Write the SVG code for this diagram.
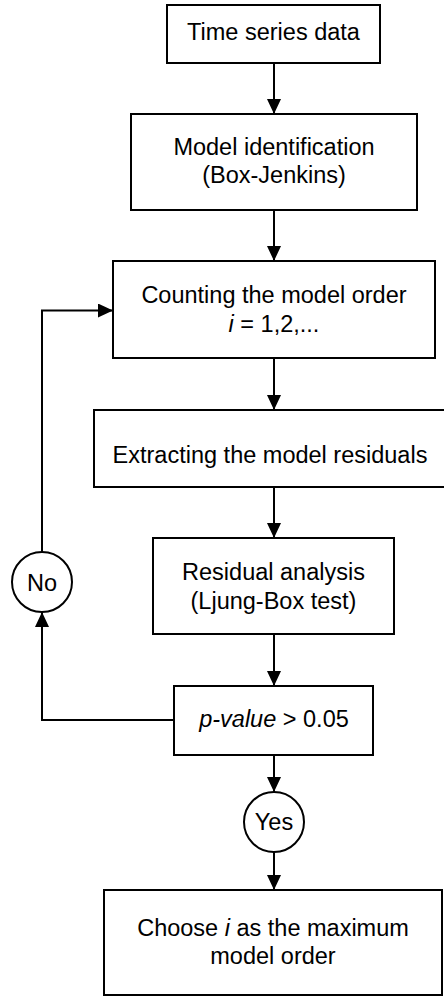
<svg xmlns="http://www.w3.org/2000/svg" width="444" height="996" viewBox="0 0 444 996">
<style>
.box{fill:#fff;stroke:#000;stroke-width:2}
.t{font-family:"Liberation Sans",Arial,sans-serif;font-size:23.5px;fill:#000;text-anchor:middle}
.it{font-style:italic}
.ln{fill:none;stroke:#000;stroke-width:2}
</style>
<defs>
<marker id="ah" viewBox="0 0 15 14" refX="15" refY="7" markerWidth="15" markerHeight="14" markerUnits="userSpaceOnUse" orient="auto">
<path d="M0,0 L15,7 L0,14 Z" fill="#000"/>
</marker>
</defs>
<g id="connectors">
<line class="ln" x1="274" y1="63" x2="274" y2="114" marker-end="url(#ah)"/>
<line class="ln" x1="274" y1="210" x2="274" y2="261" marker-end="url(#ah)"/>
<line class="ln" x1="274" y1="358" x2="274" y2="410" marker-end="url(#ah)"/>
<line class="ln" x1="274" y1="487" x2="274" y2="538" marker-end="url(#ah)"/>
<line class="ln" x1="274" y1="634" x2="274" y2="686" marker-end="url(#ah)"/>
<line class="ln" x1="274" y1="755" x2="274" y2="792" marker-end="url(#ah)"/>
<line class="ln" x1="274" y1="852" x2="274" y2="890" marker-end="url(#ah)"/>
<polyline class="ln" points="174,720 42,720 42,612" marker-end="url(#ah)"/>
<polyline class="ln" points="42,552 42,310.5 113,310.5" marker-end="url(#ah)"/>
</g>
<g id="n1">
<rect class="box" x="167" y="5" width="213" height="58"/>
<text class="t" x="273.5" y="39.5">Time series data</text>
</g>
<g id="n2">
<rect class="box" x="131" y="114" width="286" height="96"/>
<text class="t" x="274" y="155">Model identification</text>
<text class="t" x="274" y="183">(Box-Jenkins)</text>
</g>
<g id="n3">
<rect class="box" x="113" y="261" width="322" height="97"/>
<text class="t" x="274" y="302.5">Counting the model order</text>
<text class="t" x="274" y="331.5"><tspan class="it">i</tspan> = 1,2,...</text>
</g>
<g id="n4">
<rect class="box" x="94" y="410" width="360" height="77"/>
<text class="t" x="270" y="463">Extracting the model residuals</text>
</g>
<g id="n5">
<rect class="box" x="153" y="538" width="241" height="96"/>
<text class="t" x="273.5" y="579.5">Residual analysis</text>
<text class="t" x="273.5" y="608.5">(Ljung-Box test)</text>
</g>
<g id="n6">
<rect class="box" x="174" y="686" width="199" height="69"/>
<text class="t" x="274" y="727"><tspan class="it">p-value</tspan> &gt; 0.05</text>
</g>
<g id="no">
<circle class="box" cx="42" cy="582" r="30"/>
<text class="t" x="42" y="590.5">No</text>
</g>
<g id="yes">
<circle class="box" cx="274" cy="822" r="30"/>
<text class="t" x="274" y="830">Yes</text>
</g>
<g id="n7">
<rect class="box" x="104" y="890" width="338" height="105"/>
<text class="t" x="273" y="936">Choose <tspan class="it">i</tspan> as the maximum</text>
<text class="t" x="273" y="964">model order</text>
</g>
</svg>
